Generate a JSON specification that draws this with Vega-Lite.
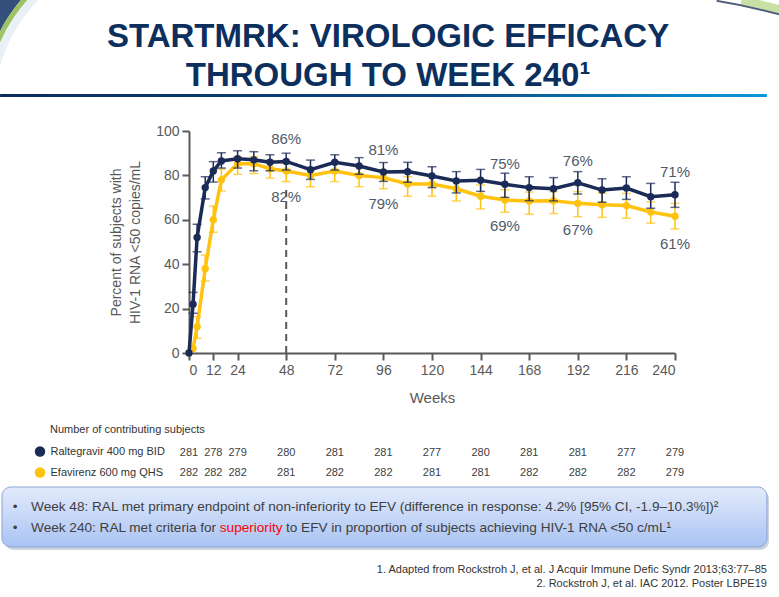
{
  "$schema": "https://vega.github.io/schema/vega-lite/v6.json",
  "width": 486,
  "height": 222,
  "autosize": {"type": "none"},
  "padding": {"left": 189, "top": 131, "right": 104, "bottom": 244},
  "background": "white",
  "config": {
    "view": {"stroke": null},
    "font": "Liberation Sans",
    "axis": {"grid": false, "domainColor": "#595959", "domainWidth": 2, "tickColor": "#595959", "tickWidth": 2, "tickSize": 7,
      "labelFontSize": 14, "labelColor": "#595959", "labelPadding": 3, "titleColor": "#595959", "titleFontWeight": "normal"}
  },
  "datasets": {
    "main": [
      {"series": "Efavirenz 600 mg QHS", "week": 0, "pct": 0},
      {"series": "Efavirenz 600 mg QHS", "week": 2, "pct": 2},
      {"series": "Efavirenz 600 mg QHS", "week": 4, "pct": 11.8, "lo": 6.6, "hi": 16.4},
      {"series": "Efavirenz 600 mg QHS", "week": 8, "pct": 38, "lo": 32.4, "hi": 44},
      {"series": "Efavirenz 600 mg QHS", "week": 12, "pct": 60, "lo": 54.4, "hi": 66.2},
      {"series": "Efavirenz 600 mg QHS", "week": 16, "pct": 78, "lo": 73, "hi": 82.7},
      {"series": "Efavirenz 600 mg QHS", "week": 24, "pct": 85.3, "lo": 80.5, "hi": 88.5},
      {"series": "Efavirenz 600 mg QHS", "week": 32, "pct": 85.3, "lo": 80.8, "hi": 88.5},
      {"series": "Efavirenz 600 mg QHS", "week": 40, "pct": 83, "lo": 78.8, "hi": 86.8},
      {"series": "Efavirenz 600 mg QHS", "week": 48, "pct": 82, "lo": 77.2, "hi": 85.4},
      {"series": "Efavirenz 600 mg QHS", "week": 60, "pct": 80, "lo": 74.9, "hi": 83.5},
      {"series": "Efavirenz 600 mg QHS", "week": 72, "pct": 82, "lo": 77.2, "hi": 85.4},
      {"series": "Efavirenz 600 mg QHS", "week": 84, "pct": 80, "lo": 74.9, "hi": 83.9},
      {"series": "Efavirenz 600 mg QHS", "week": 96, "pct": 79, "lo": 74, "hi": 82.4},
      {"series": "Efavirenz 600 mg QHS", "week": 108, "pct": 76.1, "lo": 70.6, "hi": 79.4},
      {"series": "Efavirenz 600 mg QHS", "week": 120, "pct": 76.1, "lo": 70.6, "hi": 79.4},
      {"series": "Efavirenz 600 mg QHS", "week": 132, "pct": 74, "lo": 68.5, "hi": 77.2},
      {"series": "Efavirenz 600 mg QHS", "week": 144, "pct": 70.6, "lo": 64.9, "hi": 75.7},
      {"series": "Efavirenz 600 mg QHS", "week": 156, "pct": 68.9, "lo": 63.4, "hi": 73.5},
      {"series": "Efavirenz 600 mg QHS", "week": 168, "pct": 68.5, "lo": 62.5, "hi": 72.5},
      {"series": "Efavirenz 600 mg QHS", "week": 180, "pct": 68.6, "lo": 62.8, "hi": 72.7},
      {"series": "Efavirenz 600 mg QHS", "week": 192, "pct": 67.4, "lo": 61.4, "hi": 72.7},
      {"series": "Efavirenz 600 mg QHS", "week": 204, "pct": 66.8, "lo": 61.1, "hi": 72},
      {"series": "Efavirenz 600 mg QHS", "week": 216, "pct": 66.4, "lo": 60.7, "hi": 71.9},
      {"series": "Efavirenz 600 mg QHS", "week": 228, "pct": 63.5, "lo": 58.5, "hi": 68},
      {"series": "Efavirenz 600 mg QHS", "week": 240, "pct": 61.6, "lo": 55.9, "hi": 67.4},
      {"series": "Raltegravir 400 mg BID", "week": 0, "pct": 0},
      {"series": "Raltegravir 400 mg BID", "week": 2, "pct": 22, "lo": 17.9, "hi": 27.3},
      {"series": "Raltegravir 400 mg BID", "week": 4, "pct": 52, "lo": 45.6, "hi": 58},
      {"series": "Raltegravir 400 mg BID", "week": 8, "pct": 74.5, "lo": 69.4, "hi": 79.4},
      {"series": "Raltegravir 400 mg BID", "week": 12, "pct": 82, "lo": 77, "hi": 86.2},
      {"series": "Raltegravir 400 mg BID", "week": 16, "pct": 86.5, "lo": 83.3, "hi": 90.2},
      {"series": "Raltegravir 400 mg BID", "week": 24, "pct": 87.5, "lo": 83.3, "hi": 91.1},
      {"series": "Raltegravir 400 mg BID", "week": 32, "pct": 87, "lo": 82.1, "hi": 90.7},
      {"series": "Raltegravir 400 mg BID", "week": 40, "pct": 85.9, "lo": 82.1, "hi": 89.3},
      {"series": "Raltegravir 400 mg BID", "week": 48, "pct": 86.3, "lo": 82.4, "hi": 90},
      {"series": "Raltegravir 400 mg BID", "week": 60, "pct": 82.6, "lo": 78.2, "hi": 86.9},
      {"series": "Raltegravir 400 mg BID", "week": 72, "pct": 85.9, "lo": 82.4, "hi": 89.3},
      {"series": "Raltegravir 400 mg BID", "week": 84, "pct": 84.2, "lo": 80.5, "hi": 88},
      {"series": "Raltegravir 400 mg BID", "week": 96, "pct": 81.5, "lo": 77.3, "hi": 85.8},
      {"series": "Raltegravir 400 mg BID", "week": 108, "pct": 81.7, "lo": 76.9, "hi": 85.9},
      {"series": "Raltegravir 400 mg BID", "week": 120, "pct": 79.7, "lo": 74.5, "hi": 83.9},
      {"series": "Raltegravir 400 mg BID", "week": 132, "pct": 77.5, "lo": 72.1, "hi": 81.7},
      {"series": "Raltegravir 400 mg BID", "week": 144, "pct": 77.8, "lo": 72.8, "hi": 82.7},
      {"series": "Raltegravir 400 mg BID", "week": 156, "pct": 76, "lo": 70.1, "hi": 81},
      {"series": "Raltegravir 400 mg BID", "week": 168, "pct": 74.5, "lo": 68.6, "hi": 79.4},
      {"series": "Raltegravir 400 mg BID", "week": 180, "pct": 74, "lo": 68.5, "hi": 79},
      {"series": "Raltegravir 400 mg BID", "week": 192, "pct": 76.7, "lo": 71.6, "hi": 81.7},
      {"series": "Raltegravir 400 mg BID", "week": 204, "pct": 73.4, "lo": 67.9, "hi": 78.5},
      {"series": "Raltegravir 400 mg BID", "week": 216, "pct": 74.3, "lo": 69.2, "hi": 79.4},
      {"series": "Raltegravir 400 mg BID", "week": 228, "pct": 70.4, "lo": 65.2, "hi": 76.4},
      {"series": "Raltegravir 400 mg BID", "week": 240, "pct": 71.3, "lo": 65.6, "hi": 76.9}
    ],
    "labels": [
      {"series": "Raltegravir 400 mg BID", "week": 48, "pct": 86, "label": "86%"},
      {"series": "Raltegravir 400 mg BID", "week": 96, "pct": 81, "label": "81%"},
      {"series": "Raltegravir 400 mg BID", "week": 156, "pct": 75, "label": "75%"},
      {"series": "Raltegravir 400 mg BID", "week": 192, "pct": 76, "label": "76%"},
      {"series": "Raltegravir 400 mg BID", "week": 240, "pct": 71, "label": "71%"},
      {"series": "Efavirenz 600 mg QHS", "week": 48, "pct": 82, "label": "82%"},
      {"series": "Efavirenz 600 mg QHS", "week": 96, "pct": 79, "label": "79%"},
      {"series": "Efavirenz 600 mg QHS", "week": 156, "pct": 69, "label": "69%"},
      {"series": "Efavirenz 600 mg QHS", "week": 192, "pct": 67, "label": "67%"},
      {"series": "Efavirenz 600 mg QHS", "week": 240, "pct": 61, "label": "61%"}
    ],
    "counts": [
      {"series": "Raltegravir 400 mg BID", "week": 0, "n": 281},
      {"series": "Raltegravir 400 mg BID", "week": 12, "n": 278},
      {"series": "Raltegravir 400 mg BID", "week": 24, "n": 279},
      {"series": "Raltegravir 400 mg BID", "week": 48, "n": 280},
      {"series": "Raltegravir 400 mg BID", "week": 72, "n": 281},
      {"series": "Raltegravir 400 mg BID", "week": 96, "n": 281},
      {"series": "Raltegravir 400 mg BID", "week": 120, "n": 277},
      {"series": "Raltegravir 400 mg BID", "week": 144, "n": 280},
      {"series": "Raltegravir 400 mg BID", "week": 168, "n": 281},
      {"series": "Raltegravir 400 mg BID", "week": 192, "n": 281},
      {"series": "Raltegravir 400 mg BID", "week": 216, "n": 277},
      {"series": "Raltegravir 400 mg BID", "week": 240, "n": 279},
      {"series": "Efavirenz 600 mg QHS", "week": 0, "n": 282},
      {"series": "Efavirenz 600 mg QHS", "week": 12, "n": 282},
      {"series": "Efavirenz 600 mg QHS", "week": 24, "n": 282},
      {"series": "Efavirenz 600 mg QHS", "week": 48, "n": 281},
      {"series": "Efavirenz 600 mg QHS", "week": 72, "n": 282},
      {"series": "Efavirenz 600 mg QHS", "week": 96, "n": 282},
      {"series": "Efavirenz 600 mg QHS", "week": 120, "n": 281},
      {"series": "Efavirenz 600 mg QHS", "week": 144, "n": 281},
      {"series": "Efavirenz 600 mg QHS", "week": 168, "n": 282},
      {"series": "Efavirenz 600 mg QHS", "week": 192, "n": 282},
      {"series": "Efavirenz 600 mg QHS", "week": 216, "n": 282},
      {"series": "Efavirenz 600 mg QHS", "week": 240, "n": 279}
    ],
    "one": [{}]
  },
  "layer": [
    {
      "data": {"name": "main"},
      "transform": [{"filter": "datum.series === 'Efavirenz 600 mg QHS'"}],
      "layer": [
        {
          "transform": [{"filter": "isValid(datum.lo)"}],
          "mark": {"type": "errorbar", "ticks": {"size": 9, "thickness": 1.5}, "thickness": 1.5, "color": "#ffc20e"},
          "encoding": {
            "x": {"field": "week", "type": "quantitative", "title": "Weeks"},
            "y": {"field": "lo", "type": "quantitative", "title": ["Percent of subjects with", "HIV-1 RNA <50 copies/mL"]},
            "y2": {"field": "hi"}
          }
        },
        {
          "mark": {"type": "line", "color": "#ffc20e", "strokeWidth": 3.5},
          "encoding": {
            "x": {"field": "week", "type": "quantitative", "title": "Weeks"},
            "y": {"field": "pct", "type": "quantitative", "title": ["Percent of subjects with", "HIV-1 RNA <50 copies/mL"]}
          }
        },
        {
          "mark": {"type": "point", "filled": true, "opacity": 1, "size": 55, "shape": "circle"},
          "encoding": {
            "x": {"field": "week", "type": "quantitative", "title": "Weeks"},
            "y": {"field": "pct", "type": "quantitative", "title": ["Percent of subjects with", "HIV-1 RNA <50 copies/mL"]},
            "color": {"field": "series", "type": "nominal"}
          }
        }
      ]
    },
    {
      "data": {"name": "main"},
      "transform": [{"filter": "datum.series === 'Raltegravir 400 mg BID'"}],
      "layer": [
        {
          "transform": [{"filter": "isValid(datum.lo)"}],
          "mark": {"type": "errorbar", "ticks": {"size": 9, "thickness": 1.5}, "thickness": 1.5, "color": "#1b2b57"},
          "encoding": {
            "x": {"field": "week", "type": "quantitative", "title": "Weeks"},
            "y": {"field": "lo", "type": "quantitative", "title": ["Percent of subjects with", "HIV-1 RNA <50 copies/mL"]},
            "y2": {"field": "hi"}
          }
        },
        {
          "mark": {"type": "line", "color": "#1b2b57", "strokeWidth": 3.5},
          "encoding": {
            "x": {"field": "week", "type": "quantitative", "title": "Weeks"},
            "y": {"field": "pct", "type": "quantitative", "title": ["Percent of subjects with", "HIV-1 RNA <50 copies/mL"]}
          }
        },
        {
          "mark": {"type": "point", "filled": true, "opacity": 1, "size": 55, "shape": "circle"},
          "encoding": {
            "x": {
              "field": "week", "type": "quantitative", "title": "Weeks",
              "scale": {"domain": [0, 240], "nice": false, "zero": false},
              "axis": {"values": [0, 12, 24, 48, 72, 96, 120, 144, 168, 192, 216, 240], "titleFontSize": 15, "titlePadding": 13}
            },
            "y": {
              "field": "pct", "type": "quantitative", "title": ["Percent of subjects with", "HIV-1 RNA <50 copies/mL"],
              "scale": {"domain": [0, 100], "nice": false},
              "axis": {"values": [0, 20, 40, 60, 80, 100], "titleFontSize": 14, "titlePadding": 13, "titleLineHeight": 19}
            },
            "color": {
              "field": "series", "type": "nominal",
              "scale": {"domain": ["Raltegravir 400 mg BID", "Efavirenz 600 mg QHS"], "range": ["#1b2b57", "#ffc20e"]},
              "legend": {
                "title": null, "orient": "none", "legendX": -154.5, "legendY": 315,
                "labelFontSize": 11, "labelColor": "#333333", "symbolType": "circle", "symbolSize": 110,
                "symbolStrokeWidth": 0, "labelOffset": 5, "rowPadding": 9
              }
            }
          }
        }
      ]
    },
    {
      "data": {"name": "one"},
      "mark": {"type": "text", "text": "STARTMRK: VIROLOGIC EFFICACY", "fontSize": 33, "fontWeight": "bold", "color": "#0c2f5e", "align": "center", "baseline": "alphabetic"},
      "encoding": {
        "x": {"datum": 98.3, "type": "quantitative"},
        "y": {"datum": 137.8, "type": "quantitative"}
      }
    },
    {
      "data": {"name": "one"},
      "mark": {"type": "text", "text": "THROUGH TO WEEK 240¹", "fontSize": 33, "fontWeight": "bold", "color": "#0c2f5e", "align": "center", "baseline": "alphabetic"},
      "encoding": {
        "x": {"datum": 98.3, "type": "quantitative"},
        "y": {"datum": 120.3, "type": "quantitative"}
      }
    },
    {
      "data": {"name": "one"},
      "mark": {"type": "rect", "fill": {"gradient": "linear", "x1": 0, "y1": 0, "x2": 1, "y2": 0, "stops": [{"offset": 0, "color": "#0b2d5e"}, {"offset": 0.55, "color": "#0c4580"}, {"offset": 1, "color": "#0a98da"}]}},
      "encoding": {
        "x": {"datum": -93.3, "type": "quantitative"},
        "x2": {"datum": 285.4},
        "y": {"datum": 116.7, "type": "quantitative"},
        "y2": {"datum": 115.3}
      }
    },
    {
      "data": {"name": "one"},
      "mark": {"type": "arc", "theta": 4.95, "theta2": 5.65, "radius": 169, "radius2": 200, "fill": {"gradient": "radial", "x1": 0.5, "y1": 0.5, "r1": 0.42, "x2": 0.5, "y2": 0.5, "r2": 0.5, "stops": [{"offset": 0, "color": "#1c3d6e"}, {"offset": 1, "color": "#2a6f9a"}]}, "opacity": 0.9},
      "encoding": {
        "x": {"datum": -19.26, "type": "quantitative"},
        "y": {"datum": 109.9, "type": "quantitative"}
      }
    },
    {
      "data": {"name": "one"},
      "mark": {"type": "arc", "theta": 4.95, "theta2": 5.65, "radius": 164, "radius2": 169, "fill": "#8db84a", "opacity": 0.85},
      "encoding": {
        "x": {"datum": -19.26, "type": "quantitative"},
        "y": {"datum": 109.9, "type": "quantitative"}
      }
    },
    {
      "data": {"name": "one"},
      "mark": {"type": "arc", "theta": 4.95, "theta2": 5.65, "radius": 156, "radius2": 164, "fill": "#e3eef4", "opacity": 0.8},
      "encoding": {
        "x": {"datum": -19.26, "type": "quantitative"},
        "y": {"datum": 109.9, "type": "quantitative"}
      }
    },
    {
      "data": {"name": "one"},
      "mark": {"type": "arc", "theta": 0.2, "theta2": 0.32, "radius": 608, "radius2": 616, "fill": "#b9d98e", "opacity": 0.8},
      "encoding": {
        "x": {"datum": 212.8, "type": "quantitative"},
        "y": {"datum": -111.3, "type": "quantitative"}
      }
    },
    {
      "data": {"name": "one"},
      "mark": {"type": "arc", "theta": 0.16, "theta2": 0.32, "radius": 606, "radius2": 608, "fill": "#3b4a68", "opacity": 0.9},
      "encoding": {
        "x": {"datum": 212.8, "type": "quantitative"},
        "y": {"datum": -111.3, "type": "quantitative"}
      }
    },
    {
      "data": {"name": "one"},
      "mark": {"type": "rect", "fill": "#5a6a8a", "opacity": 0.3, "cornerRadius": 9},
      "encoding": {
        "x": {"datum": -90.9, "type": "quantitative"},
        "x2": {"datum": 286.4},
        "y": {"datum": -61.7, "type": "quantitative"},
        "y2": {"datum": -88.7}
      }
    },
    {
      "data": {"name": "one"},
      "mark": {"type": "rect", "cornerRadius": 9, "stroke": "#8aa3d4", "strokeWidth": 1, "fill": {"gradient": "linear", "x1": 0, "y1": 0, "x2": 0, "y2": 1, "stops": [{"offset": 0, "color": "#e3ebfb"}, {"offset": 1, "color": "#a9c3f3"}]}},
      "encoding": {
        "x": {"datum": -92.35, "type": "quantitative"},
        "x2": {"datum": 285.4},
        "y": {"datum": -60.36, "type": "quantitative"},
        "y2": {"datum": -87.39}
      }
    },
    {
      "data": {"name": "one"},
      "mark": {"type": "text", "text": "•", "fontSize": 13.5, "color": "#404040", "align": "center", "baseline": "middle"},
      "encoding": {
        "x": {"datum": -85.9, "type": "quantitative"},
        "y": {"datum": -69.2, "type": "quantitative"}
      }
    },
    {
      "data": {"name": "one"},
      "mark": {"type": "text", "text": "•", "fontSize": 13.5, "color": "#404040", "align": "center", "baseline": "middle"},
      "encoding": {
        "x": {"datum": -85.9, "type": "quantitative"},
        "y": {"datum": -78.8, "type": "quantitative"}
      }
    },
    {
      "data": {"name": "one"},
      "mark": {"type": "text", "text": "Week 48: RAL met primary endpoint of non-inferiority to EFV (difference in response: 4.2% [95% CI, -1.9–10.3%])²", "fontSize": 13.6, "color": "#404040", "align": "left", "baseline": "middle"},
      "encoding": {
        "x": {"datum": -78.0, "type": "quantitative"},
        "y": {"datum": -69.2, "type": "quantitative"}
      }
    },
    {
      "data": {"name": "one"},
      "mark": {"type": "text", "text": "Week 240: RAL met criteria for", "fontSize": 13.6, "color": "#404040", "align": "left", "baseline": "middle"},
      "encoding": {
        "x": {"datum": -78.0, "type": "quantitative"},
        "y": {"datum": -78.8, "type": "quantitative"}
      }
    },
    {
      "data": {"name": "one"},
      "mark": {"type": "text", "text": "superiority", "fontSize": 13.6, "color": "#ff0000", "align": "left", "baseline": "middle"},
      "encoding": {
        "x": {"datum": 15.2, "type": "quantitative"},
        "y": {"datum": -78.8, "type": "quantitative"}
      }
    },
    {
      "data": {"name": "one"},
      "mark": {"type": "text", "text": "to EFV in proportion of subjects achieving HIV-1 RNA <50 c/mL¹", "fontSize": 13.6, "color": "#404040", "align": "left", "baseline": "middle"},
      "encoding": {
        "x": {"datum": 47.9, "type": "quantitative"},
        "y": {"datum": -78.8, "type": "quantitative"}
      }
    },
    {
      "data": {"name": "one"},
      "mark": {"type": "text", "text": "1. Adapted from Rockstroh J, et al. J Acquir Immune Defic Syndr 2013;63:77–85", "fontSize": 11, "color": "#333333", "align": "right", "baseline": "middle"},
      "encoding": {
        "x": {"datum": 285.4, "type": "quantitative"},
        "y": {"datum": -97.75, "type": "quantitative"}
      }
    },
    {
      "data": {"name": "one"},
      "mark": {"type": "text", "text": "2. Rockstroh J, et al. IAC 2012. Poster LBPE19", "fontSize": 11, "color": "#333333", "align": "right", "baseline": "middle"},
      "encoding": {
        "x": {"datum": 285.4, "type": "quantitative"},
        "y": {"datum": -104.05, "type": "quantitative"}
      }
    },
    {
      "data": {"name": "one"},
      "mark": {"type": "text", "text": "Number of contributing subjects", "fontSize": 11, "color": "#333333", "align": "left", "baseline": "middle"},
      "encoding": {
        "x": {"datum": -68.64, "type": "quantitative"},
        "y": {"datum": -34.68, "type": "quantitative"}
      }
    },
    {
      "data": {"name": "one"},
      "mark": {"type": "rule", "color": "#595959", "strokeWidth": 2, "strokeDash": [7, 5]},
      "encoding": {
        "x": {"datum": 48, "type": "quantitative"},
        "y": {"datum": 0, "type": "quantitative"},
        "y2": {"datum": 74}
      }
    },
    {
      "data": {"name": "labels"},
      "transform": [{"filter": "datum.series === 'Raltegravir 400 mg BID'"}],
      "mark": {"type": "text", "fontSize": 15, "color": "#4f5a6b", "dy": -23, "baseline": "middle"},
      "encoding": {
        "x": {"field": "week", "type": "quantitative"},
        "y": {"field": "pct", "type": "quantitative"},
        "text": {"field": "label"}
      }
    },
    {
      "data": {"name": "labels"},
      "transform": [{"filter": "datum.series === 'Efavirenz 600 mg QHS'"}],
      "mark": {"type": "text", "fontSize": 15, "color": "#4f5a6b", "dy": 26, "baseline": "middle"},
      "encoding": {
        "x": {"field": "week", "type": "quantitative"},
        "y": {"field": "pct", "type": "quantitative"},
        "text": {"field": "label"}
      }
    },
    {
      "data": {"name": "counts"},
      "transform": [{"filter": "datum.series === 'Raltegravir 400 mg BID'"}],
      "mark": {"type": "text", "fontSize": 11, "color": "#404040", "baseline": "middle"},
      "encoding": {
        "x": {"field": "week", "type": "quantitative"},
        "y": {"datum": -44.82, "type": "quantitative"},
        "text": {"field": "n"}
      }
    },
    {
      "data": {"name": "counts"},
      "transform": [{"filter": "datum.series === 'Efavirenz 600 mg QHS'"}],
      "mark": {"type": "text", "fontSize": 11, "color": "#404040", "baseline": "middle"},
      "encoding": {
        "x": {"field": "week", "type": "quantitative"},
        "y": {"datum": -54.05, "type": "quantitative"},
        "text": {"field": "n"}
      }
    }
  ]
}
